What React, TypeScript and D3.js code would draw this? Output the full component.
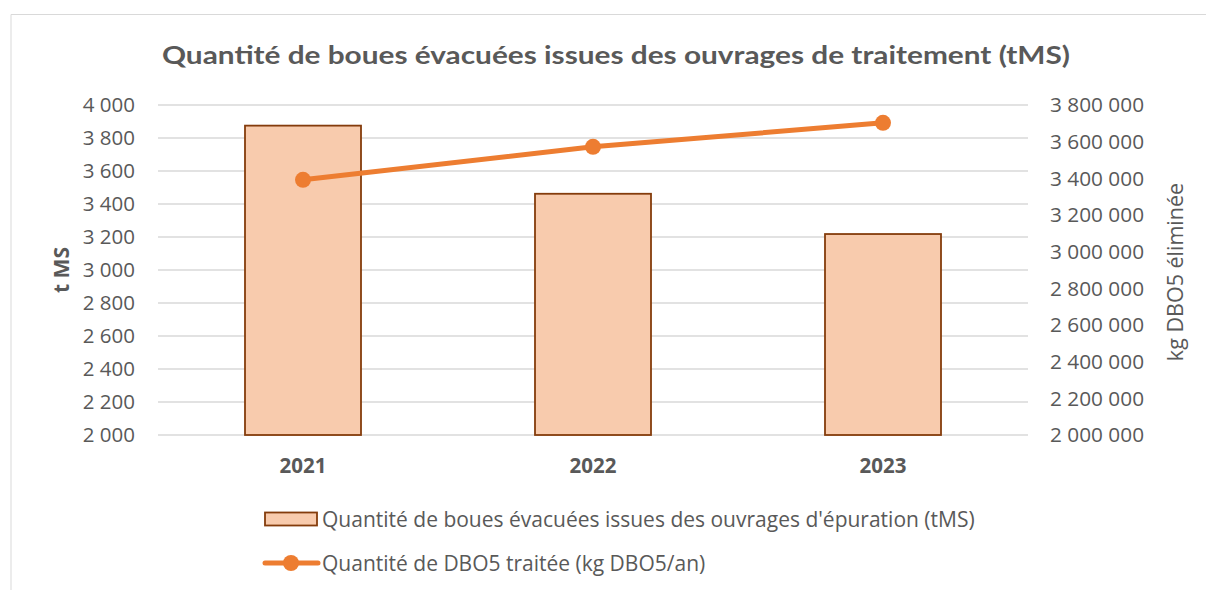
import React, { useEffect, useRef } from "react";
import * as d3 from "d3";

const categories = ["2021", "2022", "2023"];
const sludgeValues = [3875, 3462, 3218];
const dboValues = [3392000, 3572000, 3703000];
const leftTicks = [2000, 2200, 2400, 2600, 2800, 3000, 3200, 3400, 3600, 3800, 4000];
const rightTicks = [2000000, 2200000, 2400000, 2600000, 2800000, 3000000, 3200000, 3400000, 3600000, 3800000];

const title = "Quantité de boues évacuées issues des ouvrages de traitement (tMS)";
const leftTitle = "t MS";
const rightTitle = "kg DBO5 éliminée";
const barLegend = "Quantité de boues évacuées issues des ouvrages d'épuration (tMS)";
const lineLegend = "Quantité de DBO5 traitée (kg DBO5/an)";

const W = 1206;
const H = 590;
const FONT = "'Open Sans', Lato, sans-serif";
const TITLE_FONT = "Lato, 'Open Sans', sans-serif";
const GREY = "#595959";

const fmt = (v: number) => d3.format(",")(v).replace(/,/g, " ");

export default function App() {
  const ref = useRef<SVGSVGElement>(null);

  useEffect(() => {
    const svg = d3.select(ref.current);
    svg.selectAll("*").remove();

    const left = 158, right = 1028, top = 105, bottom = 435;
    const x = d3.scaleBand().domain(categories).range([left, right]).paddingInner(0.6).paddingOuter(0.3);
    const yL = d3.scaleLinear().domain([2000, 4000]).range([bottom, top]);
    const yR = d3.scaleLinear().domain([2000000, 3800000]).range([bottom, top]);

    svg.append("rect").attr("width", W).attr("height", H).attr("fill", "#fff");
    svg.append("path")
      .attr("d", `M11,${H} L11,14.5 L${W},14.5`)
      .attr("fill", "none").attr("stroke", "#D9D9D9").attr("stroke-width", 1);

    svg.append("text")
      .attr("x", 616).attr("y", 64)
      .attr("text-anchor", "middle")
      .attr("font-family", TITLE_FONT).attr("font-weight", "bold").attr("font-size", 25)
      .attr("fill", GREY)
      .attr("textLength", 908).attr("lengthAdjust", "spacingAndGlyphs")
      .text(title);

    // gridlines
    svg.append("g").selectAll("line").data(leftTicks).join("line")
      .attr("x1", left).attr("x2", right)
      .attr("y1", d => yL(d)).attr("y2", d => yL(d))
      .attr("stroke", "#D9D9D9").attr("stroke-width", 1.3);

    // left tick labels
    svg.append("g").selectAll("text").data(leftTicks).join("text")
      .attr("x", 135).attr("y", d => yL(d)).attr("dy", "0.36em")
      .attr("text-anchor", "end")
      .attr("font-family", FONT).attr("font-size", 20.5).attr("fill", GREY)
      .text(d => fmt(d));

    // right tick labels
    svg.append("g").selectAll("text").data(rightTicks).join("text")
      .attr("x", 1050).attr("y", d => yR(d)).attr("dy", "0.36em")
      .attr("text-anchor", "start")
      .attr("font-family", FONT).attr("font-size", 20.8).attr("fill", GREY)
      .text(d => fmt(d));

    // axis titles
    svg.append("text")
      .attr("transform", `translate(61,${(top + bottom) / 2}) rotate(-90)`)
      .attr("text-anchor", "middle").attr("dy", "0.36em")
      .attr("font-family", FONT).attr("font-weight", "bold").attr("font-size", 21).attr("fill", GREY)
      .text(leftTitle);
    svg.append("text")
      .attr("transform", `translate(1175,${(top + bottom) / 2 + 2}) rotate(-90)`)
      .attr("text-anchor", "middle").attr("dy", "0.36em")
      .attr("font-family", FONT).attr("font-size", 21.5).attr("fill", GREY)
      .text(rightTitle);

    // bars
    svg.append("g").selectAll("rect").data(categories).join("rect")
      .attr("x", d => x(d)!).attr("width", x.bandwidth())
      .attr("y", (d, i) => yL(sludgeValues[i]))
      .attr("height", (d, i) => bottom - yL(sludgeValues[i]))
      .attr("fill", "#F8CBAD").attr("stroke", "#843C0C").attr("stroke-width", 1.8);

    // x labels
    svg.append("g").selectAll("text").data(categories).join("text")
      .attr("x", d => x(d)! + x.bandwidth() / 2).attr("y", 465.5).attr("dy", "0.36em")
      .attr("text-anchor", "middle")
      .attr("font-family", FONT).attr("font-weight", "bold").attr("font-size", 20.5).attr("fill", GREY)
      .text(d => d);

    // line
    const pts = categories.map((c, i) => [x(c)! + x.bandwidth() / 2, yR(dboValues[i])] as [number, number]);
    svg.append("path")
      .attr("d", d3.line()(pts)!)
      .attr("fill", "none").attr("stroke", "#ED7D31").attr("stroke-width", 5).attr("stroke-linecap", "round");
    svg.append("g").selectAll("circle").data(pts).join("circle")
      .attr("cx", d => d[0]).attr("cy", d => d[1]).attr("r", 8)
      .attr("fill", "#ED7D31");

    // legend
    svg.append("rect").attr("x", 265).attr("y", 512.5).attr("width", 52).attr("height", 13)
      .attr("fill", "#F8CBAD").attr("stroke", "#843C0C").attr("stroke-width", 1.8);
    svg.append("text").attr("x", 322).attr("y", 519).attr("dy", "0.36em")
      .attr("font-family", FONT).attr("font-size", 21).attr("fill", GREY)
      .text(barLegend);
    svg.append("line").attr("x1", 265).attr("x2", 318).attr("y1", 563).attr("y2", 563)
      .attr("stroke", "#ED7D31").attr("stroke-width", 5).attr("stroke-linecap", "round");
    svg.append("circle").attr("cx", 291).attr("cy", 563).attr("r", 8).attr("fill", "#ED7D31");
    svg.append("text").attr("x", 322).attr("y", 563).attr("dy", "0.36em")
      .attr("font-family", FONT).attr("font-size", 21).attr("fill", GREY)
      .text(lineLegend);
  }, []);

  return (
    <svg ref={ref} width={W} height={H} style={{ position: "absolute", left: 0, top: 0 }} />
  );
}
